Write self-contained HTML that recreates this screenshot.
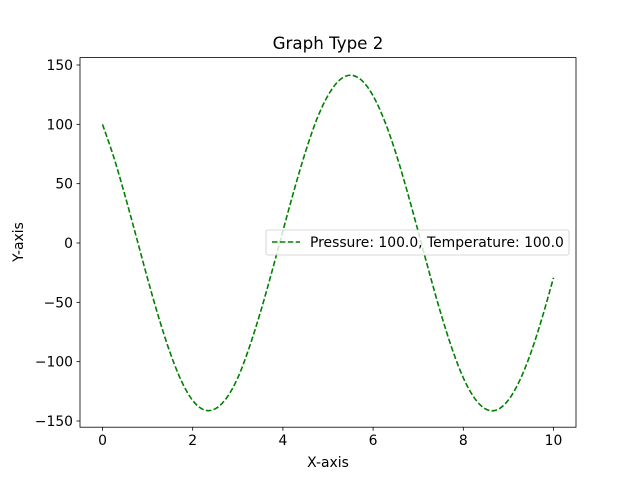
<!DOCTYPE html>
<html><head><meta charset="utf-8"><style>
body{margin:0;background:#fff;}
svg{font-family:"DejaVu Sans","Liberation Sans",sans-serif;}
</style></head><body>
<svg id="chart" width="640" height="480" viewBox="0 0 640 480">
<rect width="640" height="480" fill="#fff"/>
<text x="328" y="49" text-anchor="middle" font-size="16.7">Graph Type 2</text>
<g id="ticks"></g>
<path id="line" fill="none" stroke="#008000" stroke-width="1.6" stroke-dasharray="5.5,2.4"/>
<rect x="80" y="57.6" width="496" height="369.6" fill="none" stroke="#000" stroke-width="0.8"/>
<text x="328" y="467" text-anchor="middle" font-size="13.9">X-axis</text>
<text transform="translate(23,242) rotate(-90)" text-anchor="middle" font-size="13.9">Y-axis</text>
<g>
<rect x="266" y="230" width="303" height="25" rx="2" fill="#fff" fill-opacity="0.8" stroke="#ccc" stroke-width="0.8"/>
<line x1="272" y1="242" x2="300" y2="242" stroke="#008000" stroke-width="1.6" stroke-dasharray="5.5,2.4"/>
<text x="310" y="247" font-size="13.9">Pressure: 100.0, Temperature: 100.0</text>
</g>
</svg>
<script>
const xValues=[0,0.25,0.5,0.75,1,1.25,1.5,1.75,2,2.25,2.5,2.75,3,3.25,3.5,3.75,4,4.25,4.5,4.75,5,5.25,5.5,5.75,6,6.25,6.5,6.75,7,7.25,7.5,7.75,8,8.25,8.5,8.75,9,9.25,9.5,9.75,10];
const yValues=[100,72.3,39.8,5.1,-30.1,-63.2,-92.5,-116.3,-132.7,-140.6,-139.7,-130.6,-113.6,-88.5,-58.5,-25.0,10.2,44.7,76.7,104.1,124.3,137.1,141.4,137.0,124.0,103.3,76.3,44.3,9.7,-25.5,-59.1,-89.0,-113.6,-130.8,-140.0,-140.6,-132.3,-115.9,-92.3,-62.7,-29.3];
const xTicks=[0,2,4,6,8,10];
const yTicks=[150,100,50,0,-50,-100,-150];
const NS="http://www.w3.org/2000/svg";
function sx(v){return 102.5+(v-0)*(553.5-102.5)/10;}
function sy(v){return 243-v*(356/300);}
const g=document.getElementById('ticks');
function mk(t,a){const e=document.createElementNS(NS,t);for(const k in a)e.setAttribute(k,a[k]);g.appendChild(e);return e;}
xTicks.forEach(v=>{
 const l=mk('line',{x1:sx(v),x2:sx(v),y1:427.2,y2:430.7,stroke:'#000','stroke-width':0.8});
 
 
 const t=mk('text',{x:sx(v),y:445,'text-anchor':'middle','font-size':13.9});
 t.textContent=v;
 
 
});
yTicks.forEach(v=>{
 const l=mk('line',{x1:76.5,x2:80,y1:sy(v),y2:sy(v),stroke:'#000','stroke-width':0.8});
 
 
 const t=mk('text',{x:73,y:sy(v)+5,'text-anchor':'end','font-size':13.9});
 t.textContent=v<0?'\u2212'+(-v):v;
 
 
});
const P=xValues.map((x,i)=>[sx(x),sy(yValues[i])]);
let d='M'+P[0][0]+','+P[0][1];
for(let i=0;i<P.length-1;i++){
 const p0=P[i-1]||P[i],p1=P[i],p2=P[i+1],p3=P[i+2]||P[i+1];
 const c1=[p1[0]+(p2[0]-p0[0])/6,p1[1]+(p2[1]-p0[1])/6];
 const c2=[p2[0]-(p3[0]-p1[0])/6,p2[1]-(p3[1]-p1[1])/6];
 d+=' C'+c1[0]+','+c1[1]+' '+c2[0]+','+c2[1]+' '+p2[0]+','+p2[1];
}
document.getElementById('line').setAttribute('d',d);
</script>
</body></html>
